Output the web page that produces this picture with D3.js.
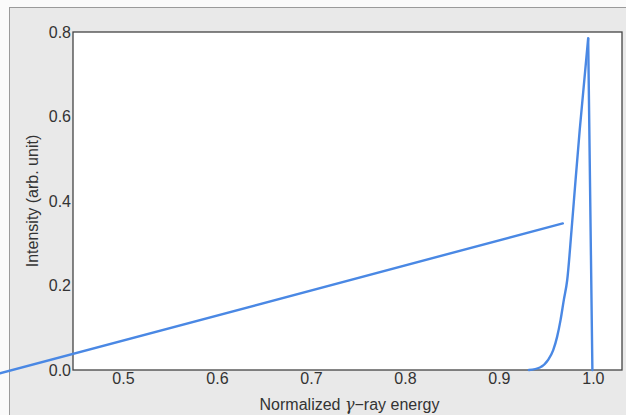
<!DOCTYPE html>
<html>
<head>
<meta charset="utf-8">
<script src="https://cdn.jsdelivr.net/npm/d3@7"></script>
<style>
  body { margin: 0; background: #fafafa; }
  text { font-family: "Liberation Sans", Arial, sans-serif; fill: #333; }
</style>
</head>
<body>
<svg id="chart" width="626" height="415"></svg>
<script>
// straight line (two end points)
const lineX = [0.369, 0.968];
const lineY = [-0.008, 0.347];
// peak curve
const peakX = [0.932, 0.9436, 0.9524, 0.9578, 0.962, 0.9656, 0.9691, 0.9727, 0.9773, 0.9816, 0.986, 0.995, 0.9995];
const peakY = [0, 0.006, 0.024, 0.047, 0.079, 0.118, 0.166, 0.213, 0.331, 0.450, 0.568, 0.785, 0];
const xTicks = [0.5, 0.6, 0.7, 0.8, 0.9, 1.0];
const yTicks = [0.0, 0.2, 0.4, 0.6, 0.8];

const svg = d3.select('#chart');
const m = { left: 73, top: 32, right: 622, bottom: 370 };

// outer panel
svg.append('rect').attr('x', 9.5).attr('y', 7.5).attr('width', 640).attr('height', 420)
	.attr('fill', '#e9e9e9').attr('stroke', '#9a9a9a');

const x = d3.scaleLinear().domain([0.4468, 1.031]).range([m.left, m.right]);
const y = d3.scaleLinear().domain([0, 0.8]).range([m.bottom, m.top]);

svg.append('rect').attr('x', m.left).attr('y', m.top).attr('width', m.right - m.left).attr('height', m.bottom - m.top)
	.attr('fill', '#fff').attr('stroke', '#444').attr('stroke-width', 1.3);

// axes without tick marks
const xAxis = svg.append('g').attr('transform', `translate(0,${m.bottom})`)
	.call(d3.axisBottom(x).tickValues(xTicks).tickFormat(d3.format('.1f')).tickSize(0).tickPadding(3));
const yAxis = svg.append('g').attr('transform', `translate(${m.left},0)`)
	.call(d3.axisLeft(y).tickValues(yTicks).tickFormat(d3.format('.1f')).tickSize(0).tickPadding(2));
[xAxis, yAxis].forEach(a => {
	a.select('.domain').remove();
	a.selectAll('text').attr('font-size', 16).attr('fill', '#333').attr('font-family', '"Liberation Sans", Arial, sans-serif');
});

const line = d3.line().x(d => x(d[0])).y(d => y(d[1]));
const smooth = d3.line().x(d => x(d[0])).y(d => y(d[1])).curve(d3.curveMonotoneX);
const style = (p) => p.attr('fill', 'none').attr('stroke', '#4a88e4').attr('stroke-width', 2.4).attr('stroke-linejoin', 'round').attr('stroke-linecap', 'round');

svg.append('path').datum(d3.zip(lineX, lineY)).attr('d', line).call(style);
const peak = d3.zip(peakX, peakY);
svg.append('path').datum(peak.slice(0, -1)).attr('d', smooth).call(style); // rising edge
svg.append('path').datum(peak.slice(-2)).attr('d', line).call(style); // sharp drop

// titles
const xt = svg.append('text').attr('x', (m.left + m.right) / 2 + 2).attr('y', 410).attr('text-anchor', 'middle').attr('font-size', 16);
xt.append('tspan').text('Normalized ');
xt.append('tspan').attr('font-family', '"DejaVu Serif", serif').attr('font-style', 'italic').text('γ');
xt.append('tspan').text('−ray energy');

svg.append('text').attr('transform', `translate(38,${(m.top + m.bottom) / 2}) rotate(-90)`)
	.attr('text-anchor', 'middle').attr('font-size', 16).text('Intensity (arb. unit)');
</script>
</body>
</html>
